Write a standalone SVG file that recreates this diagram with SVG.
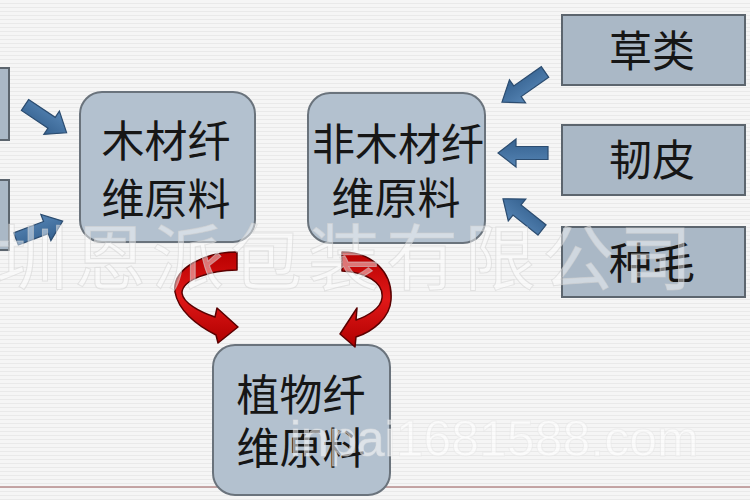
<svg xmlns="http://www.w3.org/2000/svg" width="750" height="500" viewBox="0 0 750 500">
<defs>
<pattern id="bgLines" width="8" height="4" patternUnits="userSpaceOnUse">
<rect width="8" height="4" fill="#f5f5f5"/>
<rect y="3" width="8" height="1" fill="#e9e9e9"/>
</pattern>
<linearGradient id="redGrad" x1="0" y1="0" x2="0" y2="1">
<stop offset="0" stop-color="#b80000"/>
<stop offset="0.5" stop-color="#e01818"/>
<stop offset="1" stop-color="#b00000"/>
</linearGradient>
<linearGradient id="blueGrad" x1="0" y1="0" x2="0" y2="1">
<stop offset="0" stop-color="#5584b4"/>
<stop offset="1" stop-color="#35618f"/>
</linearGradient>
<polygon id="blockArrow" points="0,-6.5 32,-6.5 32,-14 50,0 32,14 32,6.5 0,6.5"/>
<style>
.rnode { fill: #b3c1cf; stroke: #6a737c; stroke-width: 2; }
.snode { fill: #aab8c6; stroke: #5c656e; stroke-width: 2; }
.lbl { font-family: "Noto Sans CJK SC", "Noto Sans", sans-serif; font-size: 43px; fill: #161616; text-anchor: middle; }
.blue { fill: url(#blueGrad); stroke: #2b4c70; stroke-width: 1.2; }
.red { fill: url(#redGrad); stroke: #5a0000; stroke-width: 1.5; stroke-linejoin: round; }
.wm { font-family: "Noto Sans CJK SC", sans-serif; font-size: 72px; fill: #ffffff; fill-opacity: 0.45; stroke: #d2d2d2; stroke-opacity: 0.55; stroke-width: 1; }
.wm2 { font-family: "Liberation Sans", Arial, sans-serif; font-size: 50px; fill: #ffffff; fill-opacity: 0.55; stroke: #e2e2e2; stroke-opacity: 0.45; stroke-width: 1; }
</style>
</defs>
<rect width="750" height="500" fill="url(#bgLines)"/>
<line x1="0" y1="487" x2="750" y2="487" stroke="#b48a8a" stroke-width="1.5"/>

<g id="node-left-1"><rect x="-10" y="68" width="19" height="72" class="snode"/></g>
<g id="node-left-2"><rect x="-10" y="180" width="19" height="70" class="snode"/></g>

<g id="node-wood">
<rect x="80" y="92" width="175" height="150" rx="22" class="rnode"/>
<text class="lbl" x="166" y="157">木材纤</text>
<text class="lbl" x="166" y="215">维原料</text>
</g>

<g id="node-nonwood">
<rect x="308" y="93" width="177" height="150" rx="22" class="rnode"/>
<text class="lbl" x="398" y="160">非木材纤</text>
<text class="lbl" x="396" y="214">维原料</text>
</g>

<g id="node-grass">
<rect x="562" y="15" width="183" height="70" class="snode"/>
<text class="lbl" x="652" y="67">草类</text>
</g>
<g id="node-bast">
<rect x="562" y="125" width="183" height="70" class="snode"/>
<text class="lbl" x="652" y="176">韧皮</text>
</g>
<g id="node-seedhair">
<rect x="562" y="227" width="183" height="70" class="snode"/>
<text class="lbl" x="652" y="279">种毛</text>
</g>

<g id="node-plant">
<rect x="213" y="345" width="177" height="150" rx="22" class="rnode"/>
<text class="lbl" x="301" y="411">植物纤</text>
<text class="lbl" x="301" y="464">维原料</text>
</g>

<g id="connectors">
<use href="#blockArrow" class="blue" transform="translate(25,105) rotate(33.7)"/>
<use href="#blockArrow" class="blue" transform="translate(16,239) rotate(-21)"/>
<use href="#blockArrow" class="blue" transform="translate(545,72) rotate(145) scale(1.05,1)"/>
<use href="#blockArrow" class="blue" transform="translate(548,153) rotate(180)"/>
<use href="#blockArrow" class="blue" transform="translate(542,230) rotate(218.7)"/>
<path class="red" d="M237,252 C205,252 172,268 175,292 C178,310 196,325 216,335 L218,343 L238,327 L217,308 L215,317 C200,312 183,303 182,293 C182,280 210,270 237,270 Z"/>
<path class="red" d="M342,252 C372,252 393,272 391,300 C390,318 372,332 356,337 L355,347 L340,334 L357,308 L356,320 C368,316 381,308 382,298 C384,282 365,272 342,271 Z"/>
</g>

<g id="watermark">
<text class="wm" x="-4" y="284" textLength="696">圳恩派包装有限公司</text>
<text class="wm2" x="290" y="456">inpai1681588.com</text>
</g>
</svg>
